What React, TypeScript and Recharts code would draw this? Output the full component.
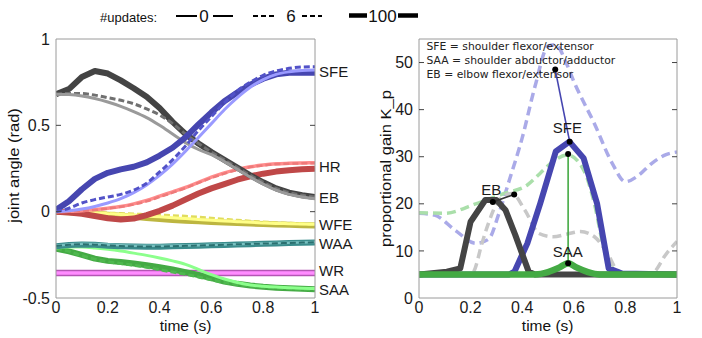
import React from 'react';
import { LineChart, Line, XAxis, YAxis, ReferenceDot } from 'recharts';

// ---------- Left panel: joint angles (rad) over time (s) ----------
const TIME = [0, 0.05, 0.1, 0.15, 0.2, 0.25, 0.3, 0.35, 0.4, 0.45, 0.5, 0.55, 0.6, 0.65, 0.7, 0.75, 0.8, 0.85, 0.9, 0.95, 1];

const SFE_100 = [0.01, 0.06, 0.13, 0.19, 0.225, 0.245, 0.26, 0.285, 0.325, 0.37, 0.43, 0.505, 0.575, 0.64, 0.69, 0.735, 0.77, 0.795, 0.805, 0.805, 0.805];
const SFE_6 = [0, 0.02, 0.05, 0.07, 0.085, 0.1, 0.125, 0.165, 0.23, 0.3, 0.38, 0.47, 0.55, 0.63, 0.7, 0.75, 0.79, 0.815, 0.83, 0.838, 0.84];
const SFE_0 = [0, 0.005, 0.015, 0.03, 0.05, 0.075, 0.11, 0.155, 0.21, 0.275, 0.35, 0.43, 0.51, 0.59, 0.66, 0.72, 0.765, 0.795, 0.81, 0.818, 0.82];

const EB_100 = [0.68, 0.71, 0.78, 0.815, 0.8, 0.76, 0.715, 0.665, 0.6, 0.52, 0.45, 0.395, 0.345, 0.3, 0.255, 0.21, 0.17, 0.135, 0.11, 0.095, 0.085];
const EB_6 = [0.68, 0.685, 0.684, 0.675, 0.66, 0.645, 0.625, 0.595, 0.56, 0.51, 0.45, 0.395, 0.345, 0.3, 0.255, 0.21, 0.17, 0.135, 0.11, 0.095, 0.085];
const EB_0 = [0.68, 0.678, 0.67, 0.655, 0.635, 0.61, 0.58, 0.545, 0.5, 0.45, 0.4, 0.36, 0.33, 0.29, 0.245, 0.2, 0.16, 0.125, 0.1, 0.085, 0.075];

const HR_100 = [0, -0.005, -0.012, -0.025, -0.038, -0.045, -0.04, -0.02, 0.005, 0.035, 0.07, 0.105, 0.135, 0.16, 0.185, 0.205, 0.22, 0.232, 0.24, 0.245, 0.248];
const HR_6 = [0, 0.001, 0.004, 0.01, 0.018, 0.028, 0.042, 0.06, 0.085, 0.11, 0.137, 0.167, 0.195, 0.22, 0.242, 0.258, 0.268, 0.275, 0.278, 0.28, 0.281];
const HR_0 = [0, 0.002, 0.006, 0.012, 0.02, 0.03, 0.045, 0.065, 0.09, 0.115, 0.14, 0.17, 0.2, 0.225, 0.245, 0.26, 0.27, 0.277, 0.28, 0.282, 0.283];

const WFE_100 = [0, -0.004, -0.008, -0.013, -0.018, -0.024, -0.03, -0.037, -0.043, -0.048, -0.052, -0.056, -0.06, -0.063, -0.066, -0.069, -0.072, -0.074, -0.076, -0.078, -0.08];
const WFE_6 = [0, -0.001, -0.003, -0.005, -0.008, -0.011, -0.014, -0.017, -0.02, -0.023, -0.027, -0.032, -0.038, -0.044, -0.05, -0.055, -0.06, -0.064, -0.067, -0.07, -0.072];
const WFE_0 = [0, -0.002, -0.005, -0.008, -0.012, -0.016, -0.02, -0.025, -0.03, -0.035, -0.04, -0.045, -0.05, -0.054, -0.058, -0.062, -0.065, -0.068, -0.07, -0.072, -0.073];

const WAA_100 = [-0.2, -0.193, -0.19, -0.192, -0.197, -0.2, -0.202, -0.203, -0.203, -0.201, -0.199, -0.197, -0.195, -0.193, -0.19, -0.188, -0.186, -0.184, -0.182, -0.18, -0.178];
const WAA_6 = [-0.199, -0.192, -0.189, -0.191, -0.196, -0.199, -0.201, -0.202, -0.202, -0.2, -0.198, -0.196, -0.194, -0.192, -0.189, -0.187, -0.185, -0.183, -0.181, -0.179, -0.177];
const WAA_0 = [-0.197, -0.19, -0.186, -0.187, -0.19, -0.194, -0.197, -0.198, -0.198, -0.197, -0.196, -0.194, -0.192, -0.19, -0.188, -0.186, -0.184, -0.182, -0.18, -0.178, -0.176];

const WR_100 = [-0.355, -0.355, -0.355, -0.355, -0.355, -0.355, -0.355, -0.355, -0.355, -0.355, -0.355, -0.355, -0.355, -0.355, -0.355, -0.355, -0.355, -0.355, -0.355, -0.355, -0.355];
const WR_0 = [-0.355, -0.355, -0.355, -0.355, -0.355, -0.355, -0.355, -0.355, -0.355, -0.355, -0.355, -0.355, -0.355, -0.355, -0.355, -0.355, -0.355, -0.355, -0.355, -0.355, -0.355];

const SAA_100 = [-0.215, -0.23, -0.25, -0.272, -0.285, -0.292, -0.3, -0.31, -0.322, -0.335, -0.35, -0.367, -0.385, -0.405, -0.418, -0.428, -0.435, -0.44, -0.444, -0.447, -0.45];
const SAA_6 = [-0.215, -0.23, -0.255, -0.275, -0.29, -0.3, -0.31, -0.322, -0.336, -0.35, -0.363, -0.378, -0.395, -0.41, -0.422, -0.43, -0.437, -0.442, -0.446, -0.449, -0.452];
const SAA_0 = [-0.21, -0.205, -0.205, -0.21, -0.218, -0.228, -0.24, -0.253, -0.268, -0.285, -0.305, -0.335, -0.365, -0.39, -0.41, -0.425, -0.432, -0.437, -0.44, -0.443, -0.445];

const JOINT_LABELS = ['SFE', 'HR', 'EB', 'WFE', 'WAA', 'WR', 'SAA'];
const JOINT_LABEL_Y = [0.808, 0.258, 0.083, -0.078, -0.188, -0.343, -0.453];

const LEFT_X_TICKS = [0, 0.2, 0.4, 0.6, 0.8, 1];
const LEFT_Y_TICKS = [-0.5, 0, 0.5, 1];

// ---------- Right panel: proportional gain K_p over time (s) ----------
const SFE6_T = [0, 0.06, 0.14, 0.22, 0.27, 0.31, 0.35, 0.4, 0.45, 0.5, 0.53, 0.57, 0.6, 0.68, 0.75, 0.8, 0.85, 0.9, 0.96, 1];
const SFE6_K = [18, 17.6, 14.4, 11.6, 12.5, 18, 25, 34, 45, 53.5, 53.8, 50, 46, 37, 28.5, 24.7, 26, 28.5, 30.5, 31];
const SAA6_T = [0, 0.1, 0.22, 0.33, 0.42, 0.47, 0.52, 0.575, 0.64, 0.68, 0.715, 0.76, 0.8, 1];
const SAA6_K = [18.1, 18, 20, 22.2, 24, 26.5, 29, 30.4, 27, 20, 11, 6.5, 5, 5];
const EB6_T = [0, 0.2, 0.212, 0.244, 0.27, 0.31, 0.36, 0.41, 0.465, 0.52, 0.575, 0.625, 0.68, 0.73, 0.78, 0.9, 0.96, 1];
const EB6_K = [5, 5, 5.6, 11.6, 16, 20.8, 22.2, 18.7, 13.7, 13, 13.6, 14.1, 13, 9.5, 5.2, 5.2, 9.5, 12];

const SFE100_T = [0, 0.35, 0.37, 0.42, 0.47, 0.53, 0.583, 0.638, 0.69, 0.735, 0.787, 1];
const SFE100_K = [5, 5, 5.6, 11.6, 20.1, 31.1, 33.2, 29.7, 20.1, 6.3, 5.2, 5];
const EB100_T = [0, 0.108, 0.16, 0.2, 0.257, 0.3, 0.335, 0.373, 0.425, 0.45, 1];
const EB100_K = [5, 5.6, 6.3, 16.2, 20.8, 20.8, 18.7, 13.4, 5.6, 5, 5];
const SAA100_T = [0, 0.45, 0.5, 0.545, 0.578, 0.61, 0.655, 0.7, 1];
const SAA100_K = [5, 5, 5.5, 6.5, 7.4, 6.5, 5.5, 5, 5];

const EB_MARK_T = [0.286, 0.369];
const EB_MARK_K = [20.4, 22];
const SFE_MARK_T = [0.528, 0.584];
const SFE_MARK_K = [48.5, 33.2];
const SAA_MARK_T = [0.578, 0.578];
const SAA_MARK_K = [30.6, 7.4];

const GAIN_LABELS = ['EB', 'SFE', 'SAA'];
const GAIN_LABEL_T = [0.28, 0.575, 0.577];
const GAIN_LABEL_K = [23, 36.2, 9.9];

const RIGHT_X_TICKS = [0, 0.2, 0.4, 0.6, 0.8, 1];
const RIGHT_Y_TICKS = [0, 10, 20, 30, 40, 50];

const NOTES = ['SFE = shoulder flexor/extensor', 'SAA = shoulder abductor/adductor', 'EB = elbow flexor/extensor'];
const UPDATE_COUNTS = ['0', '6', '100'];

// ---------- helpers ----------
const pts = (t: number[], v: number[]) => t.map((x, i) => ({ t: x, v: v[i] }));

const FONT = 'Liberation Sans, Arial, Helvetica, sans-serif';
const FRAME = '#9a9a9a';
const TICKC = '#444';
const tickStyle = { fontSize: 16, fill: '#1a1a1a', fontFamily: FONT };
const EmptyTick = () => <g />;

type S = { key: string; t: number[]; v: number[]; c: string; w: number; dash?: string; type?: 'linear' | 'monotone' };

const leftSeries: S[] = [
  { key: 'wr100', t: TIME, v: WR_100, c: '#b455b4', w: 6.5, type: 'linear' },
  { key: 'wr0', t: TIME, v: WR_0, c: '#ff8cff', w: 3.5 },
  { key: 'saa100', t: TIME, v: SAA_100, c: '#44aa44', w: 6, type: 'linear' },
  { key: 'saa6', t: TIME, v: SAA_6, c: '#4fb84f', w: 3, dash: '6 3' },
  { key: 'saa0', t: TIME, v: SAA_0, c: '#8cff8c', w: 3 },
  { key: 'waa100', t: TIME, v: WAA_100, c: '#3a8c8c', w: 6, type: 'linear' },
  { key: 'waa0', t: TIME, v: WAA_0, c: '#78c0c0', w: 2.5 },
  { key: 'waa6', t: TIME, v: WAA_6, c: '#2b7070', w: 2, dash: '6 3' },
  { key: 'wfe100', t: TIME, v: WFE_100, c: '#bdb640', w: 6, type: 'linear' },
  { key: 'wfe6', t: TIME, v: WFE_6, c: '#e0dc5c', w: 3, dash: '6 3' },
  { key: 'wfe0', t: TIME, v: WFE_0, c: '#ffff88', w: 3 },
  { key: 'hr100', t: TIME, v: HR_100, c: '#bf4848', w: 6, type: 'linear' },
  { key: 'hr0', t: TIME, v: HR_0, c: '#ff8c8c', w: 3.5 },
  { key: 'hr6', t: TIME, v: HR_6, c: '#ee7a7a', w: 2.5, dash: '6 3' },
  { key: 'eb100', t: TIME, v: EB_100, c: '#444444', w: 6, type: 'linear' },
  { key: 'eb6', t: TIME, v: EB_6, c: '#707070', w: 3, dash: '6 3' },
  { key: 'eb0', t: TIME, v: EB_0, c: '#9a9a9a', w: 3 },
  { key: 'sfe100', t: TIME, v: SFE_100, c: '#4646b0', w: 6, type: 'linear' },
  { key: 'sfe0', t: TIME, v: SFE_0, c: '#9a9aff', w: 3 },
  { key: 'sfe6', t: TIME, v: SFE_6, c: '#5252c8', w: 3, dash: '6 3' },
];

const rightSeries: S[] = [
  { key: 'sfe6', t: SFE6_T, v: SFE6_K, c: '#aaaae8', w: 3.5, dash: '9 5' },
  { key: 'saa6', t: SAA6_T, v: SAA6_K, c: '#aadfaa', w: 3.5, dash: '9 5' },
  { key: 'eb6', t: EB6_T, v: EB6_K, c: '#c8c8c8', w: 3.5, dash: '9 5' },
  { key: 'sfe100', t: SFE100_T, v: SFE100_K, c: '#4646b0', w: 6, type: 'linear' },
  { key: 'eb100', t: EB100_T, v: EB100_K, c: '#444444', w: 6, type: 'linear' },
  { key: 'saa100', t: SAA100_T, v: SAA100_K, c: '#44aa44', w: 6.5 },
];

const marks = [
  { key: 'ebm', t: EB_MARK_T, v: EB_MARK_K, c: '#333333' },
  { key: 'sfem', t: SFE_MARK_T, v: SFE_MARK_K, c: '#4646b0' },
  { key: 'saam', t: SAA_MARK_T, v: SAA_MARK_K, c: '#44aa44' },
];

export default function App() {
  return (
    <div style={{ position: 'absolute', left: 0, top: 0, width: 702, height: 338, background: '#fff', overflow: 'hidden' }}>
      <div style={{ position: 'absolute', left: 0, top: 0 }}>
        <LineChart width={360} height={338} margin={{ top: 39, right: 45, bottom: 0, left: 0 }}>
          <XAxis xAxisId="b" type="number" dataKey="t" domain={[0, 1]} ticks={LEFT_X_TICKS} interval={0} height={40}
            tickLine={false} tickSize={0} tickMargin={4} axisLine={{ stroke: FRAME }} tick={tickStyle} allowDataOverflow />
          <XAxis xAxisId="bm" type="number" domain={[0, 1]} ticks={[0.2, 0.4, 0.6, 0.8]} interval={0} orientation="bottom" mirror
            axisLine={false} tick={EmptyTick} tickSize={5} tickLine={{ stroke: TICKC }} allowDataOverflow />
          <XAxis xAxisId="tm" type="number" domain={[0, 1]} ticks={[0.2, 0.4, 0.6, 0.8]} interval={0} orientation="top" mirror
            axisLine={{ stroke: FRAME }} tick={EmptyTick} tickSize={5} tickLine={{ stroke: TICKC }} allowDataOverflow />
          <YAxis yAxisId="l" type="number" domain={[-0.5, 1]} ticks={LEFT_Y_TICKS} interval={0} width={56}
            tickLine={false} tickSize={0} tickMargin={6} axisLine={{ stroke: FRAME }} tick={tickStyle} allowDataOverflow />
          <YAxis yAxisId="lm" type="number" domain={[-0.5, 1]} ticks={[0, 0.5]} interval={0} orientation="left" mirror
            axisLine={false} tick={EmptyTick} tickSize={5} tickLine={{ stroke: TICKC }} allowDataOverflow />
          <YAxis yAxisId="rm" type="number" domain={[-0.5, 1]} ticks={[0, 0.5]} interval={0} orientation="right" mirror
            axisLine={{ stroke: FRAME }} tick={EmptyTick} tickSize={5} tickLine={{ stroke: TICKC }} allowDataOverflow />
          {leftSeries.map((s) => (
            <Line key={s.key} xAxisId="b" yAxisId="l" data={pts(s.t, s.v)} dataKey="v" type={s.type || 'monotone'}
              stroke={s.c} strokeWidth={s.w} strokeDasharray={s.dash} dot={false} activeDot={false}
              isAnimationActive={false} strokeLinejoin="round" />
          ))}
          {JOINT_LABELS.map((name, i) => (
            <ReferenceDot key={name} xAxisId="b" yAxisId="l" x={1} y={JOINT_LABEL_Y[i]} r={1} fill="none" stroke="none"
              ifOverflow="visible"
              label={{ value: name, position: 'right', offset: 3, fontSize: 15, fill: '#1a1a1a', fontFamily: FONT }} />
          ))}
        </LineChart>
      </div>

      <div style={{ position: 'absolute', left: 360, top: 0 }}>
        <LineChart width={342} height={338} margin={{ top: 39, right: 25, bottom: 0, left: 0 }}>
          <XAxis xAxisId="b" type="number" dataKey="t" domain={[0, 1]} ticks={RIGHT_X_TICKS} interval={0} height={40}
            tickLine={false} tickSize={0} tickMargin={4} axisLine={{ stroke: FRAME }} tick={tickStyle} allowDataOverflow />
          <XAxis xAxisId="bm" type="number" domain={[0, 1]} ticks={[0.2, 0.4, 0.6, 0.8]} interval={0} orientation="bottom" mirror
            axisLine={false} tick={EmptyTick} tickSize={5} tickLine={{ stroke: TICKC }} allowDataOverflow />
          <XAxis xAxisId="tm" type="number" domain={[0, 1]} ticks={[0.2, 0.4, 0.6, 0.8]} interval={0} orientation="top" mirror
            axisLine={{ stroke: FRAME }} tick={EmptyTick} tickSize={5} tickLine={{ stroke: TICKC }} allowDataOverflow />
          <YAxis yAxisId="l" type="number" domain={[0, 55]} ticks={RIGHT_Y_TICKS} interval={0} width={59}
            tickLine={false} tickSize={0} tickMargin={6} axisLine={{ stroke: FRAME }} tick={tickStyle} allowDataOverflow />
          <YAxis yAxisId="lm" type="number" domain={[0, 55]} ticks={[10, 20, 30, 40, 50]} interval={0} orientation="left" mirror
            axisLine={false} tick={EmptyTick} tickSize={5} tickLine={{ stroke: TICKC }} allowDataOverflow />
          <YAxis yAxisId="rm" type="number" domain={[0, 55]} ticks={[10, 20, 30, 40, 50]} interval={0} orientation="right" mirror
            axisLine={{ stroke: FRAME }} tick={EmptyTick} tickSize={5} tickLine={{ stroke: TICKC }} allowDataOverflow />
          {rightSeries.map((s) => (
            <Line key={s.key} xAxisId="b" yAxisId="l" data={pts(s.t, s.v)} dataKey="v" type={s.type || 'monotone'}
              stroke={s.c} strokeWidth={s.w} strokeDasharray={s.dash} dot={false} activeDot={false}
              isAnimationActive={false} strokeLinejoin="round" />
          ))}
          {marks.map((m) => (
            <Line key={m.key} xAxisId="b" yAxisId="l" data={pts(m.t, m.v)} dataKey="v" type="linear"
              stroke={m.c} strokeWidth={1.6} dot={{ r: 3, fill: '#000', stroke: 'none' }} activeDot={false}
              isAnimationActive={false} />
          ))}
          {GAIN_LABELS.map((name, i) => (
            <ReferenceDot key={name} xAxisId="b" yAxisId="l" x={GAIN_LABEL_T[i]} y={GAIN_LABEL_K[i]} r={1} fill="none" stroke="none"
              label={{ value: name, position: 'center', fontSize: 15, fill: '#1a1a1a', fontFamily: FONT }} />
          ))}
        </LineChart>
      </div>

      <svg width={702} height={338} style={{ position: 'absolute', left: 0, top: 0, pointerEvents: 'none' }}>
        <g fontFamily={FONT} fill="#111">
          <text x={100} y={21.5} fontSize={13}>#updates:</text>
          <line x1={176} x2={197} y1={16} y2={16} stroke="#000" strokeWidth={2} />
          <text x={204} y={22} fontSize={17} textAnchor="middle">{UPDATE_COUNTS[0]}</text>
          <line x1={213} x2={233} y1={16} y2={16} stroke="#000" strokeWidth={2} />
          <line x1={253} x2={274} y1={16} y2={16} stroke="#000" strokeWidth={2} strokeDasharray="5 3" />
          <text x={291} y={22} fontSize={17} textAnchor="middle">{UPDATE_COUNTS[1]}</text>
          <line x1={302} x2={322} y1={16} y2={16} stroke="#000" strokeWidth={2} strokeDasharray="5 3" />
          <line x1={349} x2={367} y1={15.5} y2={15.5} stroke="#000" strokeWidth={4.5} />
          <text x={382.5} y={22} fontSize={17} textAnchor="middle">{UPDATE_COUNTS[2]}</text>
          <line x1={398} x2={418} y1={15.5} y2={15.5} stroke="#000" strokeWidth={4.5} />

          <text transform="translate(19,165.5) rotate(-90) scale(1,0.88)" textAnchor="middle" fontSize={16.5}>joint angle (rad)</text>
          <text x={185.5} y={331} textAnchor="middle" fontSize={15.5}>time (s)</text>
          <text transform="translate(391,168.5) rotate(-90) scale(1,0.88)" textAnchor="middle" fontSize={16.5}>proportional gain K_p</text>
          <text x={547.7} y={331} textAnchor="middle" fontSize={15.5}>time (s)</text>
        </g>
        <g fontFamily="DejaVu Sans, sans-serif" fontSize={10.8} fill="#222">
          {NOTES.map((n, i) => (
            <text key={n} x={426.5} y={50 + i * 14}>{n}</text>
          ))}
        </g>
      </svg>
    </div>
  );
}
